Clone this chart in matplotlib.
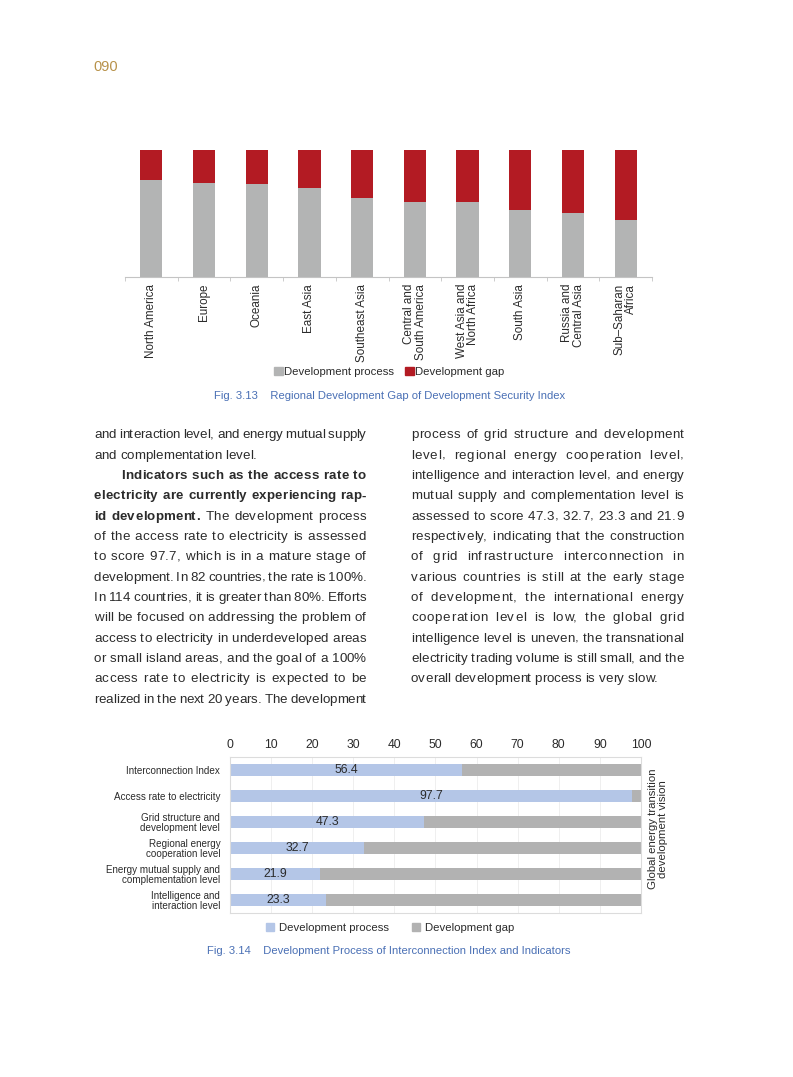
import matplotlib
matplotlib.use('Agg')
import matplotlib.pyplot as plt
from matplotlib.patches import Patch

plt.rcParams['font.family'] = ['Liberation Sans', 'DejaVu Sans']

# ---- data, fig 3.13
regions = ['North America', 'Europe', 'Oceania', 'East Asia', 'Southeast Asia',
           'Central and\nSouth America', 'West Asia and\nNorth Africa', 'South Asia',
           'Russia and\nCentral Asia', 'Sub–Saharan\nAfrica']
region_process = [76.4, 73.8, 73.3, 70.4, 62.1, 59.2, 58.9, 52.6, 50.5, 45.0]
region_gap = [23.6, 26.2, 26.7, 29.6, 37.9, 40.8, 41.1, 47.4, 49.5, 55.0]

# ---- data, fig 3.14
indicators = ['Interconnection Index', 'Access rate to electricity',
              'Grid structure and\ndevelopment level', 'Regional energy\ncooperation level',
              'Energy mutual supply and\ncomplementation level', 'Intelligence and\ninteraction level']
ind_process = [56.4, 97.7, 47.3, 32.7, 21.9, 23.3]
ind_gap = [43.6, 2.3, 52.7, 67.3, 78.1, 76.7]
x_ticks = [0, 10, 20, 30, 40, 50, 60, 70, 80, 90, 100]

# ---- body text (*word starts bold, word* ends bold)
left_col = [
    "and interaction level, and energy mutual supply",
    "and complementation level.",
    "*Indicators such as the access rate to",
    "electricity are currently experiencing rap-",
    "id development.* The development process",
    "of the access rate to electricity is assessed",
    "to score 97.7, which is in a mature stage of",
    "development. In 82 countries, the rate is 100%.",
    "In 114 countries, it is greater than 80%. Efforts",
    "will be focused on addressing the problem of",
    "access to electricity in underdeveloped areas",
    "or small island areas, and the goal of a 100%",
    "access rate to electricity is expected to be",
    "realized in the next 20 years. The development",
]
right_col = [
    "process of grid structure and development",
    "level, regional energy cooperation level,",
    "intelligence and interaction level, and energy",
    "mutual supply and complementation level is",
    "assessed to score 47.3, 32.7, 23.3 and 21.9",
    "respectively, indicating that the construction",
    "of grid infrastructure interconnection in",
    "various countries is still at the early stage",
    "of development, the international energy",
    "cooperation level is low, the global grid",
    "intelligence level is uneven, the transnational",
    "electricity trading volume is still small, and the",
    "overall development process is very slow.",
]

GRAY = '#b3b4b4'
RED = '#b31b23'
BLUE = '#b4c6e7'
GAP = '#b2b2b2'
TEXT = '#2b2b2b'
CAP = '#4a70b5'
BODY = 9.6

W, H = 793, 1077
fig = plt.figure(figsize=(W / 100, H / 100), dpi=100)


def box(x0, y0, x1, y1):
    return [x0 / W, 1 - y1 / H, (x1 - x0) / W, (y1 - y0) / H]


# page number
fig.text(93 / W, 1 - 70.7 / H, '090', fontsize=10.5, color='#b8924a', va='baseline')

# ---- Fig 3.13
ax1 = fig.add_axes(box(125, 150, 652, 277))
pos = list(range(len(regions)))
ax1.bar(pos, region_process, width=0.42, color=GRAY)
ax1.bar(pos, region_gap, bottom=region_process, width=0.42, color=RED)
ax1.set_xlim(-0.5, len(regions) - 0.5)
ax1.set_ylim(0, 100)
ax1.set_yticks([])
for s in ['top', 'right', 'left']:
    ax1.spines[s].set_visible(False)
ax1.spines['bottom'].set_color('#c4c4c4')
ax1.set_xticks(pos)
ax1.set_xticklabels(regions, rotation=90, fontsize=8.4, va='top', ha='center',
                    multialignment='right', linespacing=0.95, color=TEXT)
ax1.tick_params(axis='x', length=0, pad=5)
ax1.set_xticks([p - 0.5 for p in pos] + [len(regions) - 0.5], minor=True)
ax1.tick_params(axis='x', which='minor', length=3, color='#c4c4c4')

fig.legend(handles=[Patch(color=GRAY, label='Development process'),
                    Patch(color=RED, label='Development gap')],
           loc='center', bbox_to_anchor=(389 / W, 1 - 372 / H), ncol=2, frameon=False,
           fontsize=8.2, handlelength=0.75, handleheight=0.75, handletextpad=0.1,
           columnspacing=1.0, labelcolor=TEXT)
fig.text(390 / W, 1 - 396 / H,
         'Fig. 3.13    Regional Development Gap of Development Security Index',
         fontsize=8.1, color=CAP, ha='center', va='center')

# ---- body text, justified with word + letter spacing
renderer = fig.canvas.get_renderer()
_cache = {}


def text_w(s, weight):
    key = (s, weight)
    if key not in _cache:
        t = fig.text(0, 0, s, fontsize=BODY, fontweight=weight)
        _cache[key] = t.get_window_extent(renderer).width
        t.remove()
    return _cache[key]


SPACE = text_w('a a', 'normal') - text_w('aa', 'normal')


def set_column(lines, x0, x1, y0, step, no_justify, indent):
    bold = False
    for i, line in enumerate(lines):
        words = []
        for w in line.split(' '):
            if w.startswith('*'):
                bold = True
                w = w[1:]
            end = w.endswith('*')
            if end:
                w = w[:-1]
            words.append((w, 'bold' if bold else 'normal'))
            if end:
                bold = False
        start = x0 + (27 if i in indent else 0)
        widths = [text_w(w, wt) for w, wt in words]
        n_gaps = len(words) - 1
        n_letters = sum(len(w) - 1 for w, _ in words)
        natural = sum(widths) + SPACE * n_gaps
        gap, track = SPACE, 0.0
        if i not in no_justify and n_gaps > 0:
            extra = x1 - start - natural
            gap = SPACE + extra * 0.55 / n_gaps
            track = extra * 0.45 / n_letters
        x = start
        yb = y0 + i * step
        for (w, wt), wd in zip(words, widths):
            for k, ch in enumerate(w):
                off = text_w(w[:k + 1], wt) - text_w(ch, wt) if k else 0.0
                fig.text((x + off + k * track) / W, 1 - yb / H, ch, fontsize=BODY,
                         fontweight=wt, color=TEXT, va='baseline', ha='left')
            x += wd + (len(w) - 1) * track + gap


set_column(left_col, 94, 366, 438.3, 20.34, {1}, {2})
set_column(right_col, 411, 683.5, 438.3, 20.34, {12}, set())

# ---- Fig 3.14
ax2 = fig.add_axes(box(230, 757, 641, 913))
ypos = list(range(len(indicators)))
ax2.barh(ypos, ind_process, height=0.48, color=BLUE, zorder=2)
ax2.barh(ypos, ind_gap, left=ind_process, height=0.48, color=GAP, zorder=2)
ax2.set_xlim(0, 100)
ax2.set_ylim(len(indicators) - 0.5, -0.5)
ax2.xaxis.tick_top()
ax2.set_xticks(x_ticks)
ax2.tick_params(axis='x', length=0, pad=4, labelsize=8.7, labelcolor=TEXT)
ax2.set_yticks(ypos)
ax2.set_yticklabels(indicators, fontsize=7.1, linespacing=0.95, color=TEXT)
ax2.tick_params(axis='y', length=0, pad=7)
ax2.grid(axis='x', color='#ececec', lw=0.6, zorder=0)
for s in ax2.spines.values():
    s.set_color('#dcdcdc')
    s.set_linewidth(0.8)
for i, v in enumerate(ind_process):
    ax2.text(v / 2, i, f'{v}', ha='center', va='center', fontsize=8.8, color=TEXT, zorder=3)

fig.text(658 / W, 1 - 829 / H, 'Global energy transition\ndevelopment vision', rotation=90,
         ha='center', va='center', fontsize=8.2, multialignment='center',
         linespacing=0.95, color=TEXT)

fig.legend(handles=[Patch(color=BLUE, label='Development process'),
                    Patch(color=GAP, label='Development gap')],
           loc='center', bbox_to_anchor=(390 / W, 1 - 928 / H), ncol=2, frameon=False,
           fontsize=8.2, handlelength=0.75, handleheight=0.75, handletextpad=0.4,
           columnspacing=2.0, labelcolor=TEXT)
fig.text(389 / W, 1 - 951 / H,
         'Fig. 3.14    Development Process of Interconnection Index and Indicators',
         fontsize=8.1, color=CAP, ha='center', va='center')

fig.savefig('out.png', dpi=100)
